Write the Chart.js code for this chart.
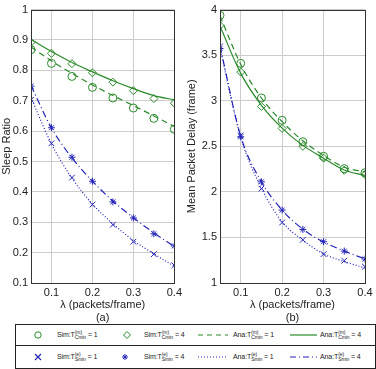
<!DOCTYPE html>
<html>
<head>
<meta charset="utf-8">
<script src="https://cdn.jsdelivr.net/npm/chart.js@4/dist/chart.umd.min.js"></script>
<style>
  body { margin: 0; background: #fff; font-family: "Liberation Sans", Arial, sans-serif; }
  #wrap { position: relative; width: 376px; height: 369px; overflow: hidden; }
  canvas { position: absolute; top: 0; }
  #legend { position: absolute; left: 15px; top: 324px; width: 359px; height: 43px; border: 1px solid #222; background: #fff; font-size: 7px; color: #222; }
  #legend .sep { position: absolute; left: 0; right: 0; top: 20px; border-top: 1px solid #222; }
  #legend .item { position: absolute; white-space: nowrap; line-height: 10px; letter-spacing: -0.1px; }
  #legend .ss { display: inline-flex; flex-direction: column; vertical-align: middle; font-size: 5px; line-height: 5px; margin-top: -1px; }
  #legend svg { position: absolute; overflow: visible; }
</style>
</head>
<body>
<div id="wrap">
  <canvas id="left" width="185" height="325" style="left:0"></canvas>
  <canvas id="right" width="191" height="325" style="left:185px"></canvas>
  <div id="legend">
    <div class="sep"></div>
    <svg width="360" height="44" style="left:0;top:0">
      <circle cx="22" cy="10" r="3.2" fill="none" stroke="#2a8a2a" stroke-width="1"/>
      <path d="M111 6.5 L114.5 10 L111 13.5 L107.5 10 Z" fill="none" stroke="#2a8a2a" stroke-width="1"/>
      <line x1="182" y1="10" x2="212" y2="10" stroke="#2a8a2a" stroke-width="1.2" stroke-dasharray="5,4"/>
      <line x1="274" y1="10" x2="301" y2="10" stroke="#2a8a2a" stroke-width="1.2"/>
      <path d="M19 29 L25 35 M25 29 L19 35" stroke="#2424b8" stroke-width="1.2"/>
      <path d="M106 32 L112 32 M109 29 L109 35 M107 30 L111 34 M111 30 L107 34" stroke="#2424b8" stroke-width="1"/>
      <line x1="182" y1="32" x2="211" y2="32" stroke="#2424b8" stroke-width="1.2" stroke-dasharray="1,2"/>
      <line x1="274" y1="32" x2="301" y2="32" stroke="#2424b8" stroke-width="1.2" stroke-dasharray="6,3,1,3"/>
    </svg>
    <div class="item" style="left:41px;top:5px">Sim:T<span class="ss"><span>(m)</span><span>Cmin</span></span> = 1</div>
    <div class="item" style="left:128px;top:5px">Sim:T<span class="ss"><span>(m)</span><span>Cmin</span></span> = 4</div>
    <div class="item" style="left:217px;top:5px">Ana:T<span class="ss"><span>(m)</span><span>Cmin</span></span> = 1</div>
    <div class="item" style="left:304px;top:5px">Ana:T<span class="ss"><span>(m)</span><span>Cmin</span></span> = 4</div>
    <div class="item" style="left:41px;top:27px">Sim:T<span class="ss"><span>(e)</span><span>Smin</span></span> = 1</div>
    <div class="item" style="left:128px;top:27px">Sim:T<span class="ss"><span>(e)</span><span>Smin</span></span> = 4</div>
    <div class="item" style="left:217px;top:27px">Ana:T<span class="ss"><span>(e)</span><span>Smin</span></span> = 1</div>
    <div class="item" style="left:304px;top:27px">Ana:T<span class="ss"><span>(e)</span><span>Smin</span></span> = 4</div>
  </div>
</div>
<script>
// lambda values (packets/frame)
const lambda = [0.05, 0.1, 0.15, 0.2, 0.25, 0.3, 0.35, 0.4]
const xTicks = [0.1, 0.2, 0.3, 0.4]

// (a) sleep ratio
const sleepSimC1 = [0.868, 0.823, 0.780, 0.744, 0.709, 0.676, 0.642, 0.606]
const sleepSimC4 = [0.892, 0.856, 0.822, 0.792, 0.761, 0.733, 0.707, 0.692]
const sleepAnaC1 = [0.877, 0.831, 0.790, 0.752, 0.717, 0.684, 0.650, 0.615]
const sleepAnaC4 = [0.902, 0.862, 0.826, 0.795, 0.766, 0.740, 0.717, 0.703]
const sleepSimS1 = [0.703, 0.560, 0.447, 0.358, 0.292, 0.236, 0.195, 0.158]
const sleepSimS4 = [0.748, 0.611, 0.514, 0.435, 0.367, 0.314, 0.262, 0.222]
const sleepAnaS1 = [0.710, 0.558, 0.445, 0.360, 0.295, 0.240, 0.196, 0.155]
const sleepAnaS4 = [0.750, 0.610, 0.512, 0.435, 0.370, 0.315, 0.265, 0.220]
const sleepTicks = [0.1, 0.2, 0.3, 0.4, 0.5, 0.6, 0.7, 0.8, 0.9, 1]

// (b) mean packet delay
const delaySimC1 = [3.937, 3.410, 3.030, 2.785, 2.550, 2.390, 2.255, 2.210]
const delaySimC4 = [3.826, 3.315, 2.937, 2.696, 2.500, 2.370, 2.237, 2.190]
const delayAnaC1 = [3.930, 3.400, 3.030, 2.770, 2.560, 2.400, 2.270, 2.220]
const delayAnaC4 = [3.820, 3.300, 2.950, 2.700, 2.510, 2.370, 2.240, 2.180]
const delaySimS1 = [3.596, 2.620, 2.036, 1.664, 1.474, 1.317, 1.245, 1.179]
const delaySimS4 = [3.574, 2.604, 2.110, 1.800, 1.588, 1.453, 1.350, 1.263]
const delayAnaS1 = [3.580, 2.600, 2.040, 1.670, 1.470, 1.320, 1.235, 1.165]
const delayAnaS4 = [3.600, 2.610, 2.110, 1.800, 1.590, 1.450, 1.350, 1.265]
const delayTicks = [1, 1.5, 2, 2.5, 3, 3.5, 4]

const green = '#2a8a2a'
const blue = '#2424b8'
const font = { family: '"Liberation Sans", Arial, sans-serif', size: 11 }

const pts = ys => ys.map((y, i) => ({ x: lambda[i], y }))

function sim(data, color, style, r) {
  return { data: pts(data), showLine: false, pointStyle: style, pointRadius: r,
    pointBorderColor: color, pointBackgroundColor: 'transparent', pointBorderWidth: 1 }
}
function ana(data, color, dash) {
  return { data: pts(data), showLine: true, borderColor: color, borderWidth: 1.2, borderDash: dash,
    pointRadius: 0, cubicInterpolationMode: 'monotone' }
}

// full frame round the plot area (chart.js only draws the axis side)
const framePlugin = {
  id: 'frame',
  afterDraw(chart) {
    const { ctx, chartArea: a } = chart
    ctx.save()
    ctx.strokeStyle = '#333'
    ctx.lineWidth = 1
    ctx.strokeRect(Math.round(a.left) + 0.5, Math.round(a.top) + 0.5,
      Math.round(a.right - a.left), Math.round(a.bottom - a.top))
    ctx.restore()
  }
}

function makeChart(id, sets, yTicks, yMin, yMax, yTitle, sub, yWidth, padRight) {
  return new Chart(document.getElementById(id), {
    type: 'scatter',
    data: { datasets: sets },
    plugins: [framePlugin],
    options: {
      responsive: false,
      animation: false,
      layout: { padding: { top: 9, right: padRight, left: 0, bottom: 0 } },
      plugins: { legend: { display: false }, tooltip: { enabled: false } },
      scales: {
        x: {
          type: 'linear', min: 0.05, max: 0.4,
          afterBuildTicks: s => { s.ticks = xTicks.map(v => ({ value: v })) },
          afterFit: s => { s.height = 42 },
          ticks: { font, color: '#222', padding: 3, callback: v => String(+v.toFixed(2)) },
          grid: { color: '#cccccc', drawTicks: false },
          border: { display: false },
          title: { display: true, text: ['λ (packets/frame)', sub], font, color: '#222', padding: 0 }
        },
        y: {
          type: 'linear', min: yMin, max: yMax,
          afterBuildTicks: s => { s.ticks = yTicks.map(v => ({ value: v })) },
          afterFit: s => { s.width = yWidth },
          ticks: { font, color: '#222', padding: 3, callback: v => String(+v.toFixed(2)) },
          grid: { color: '#cccccc', drawTicks: false },
          border: { display: false },
          title: { display: true, text: yTitle, font, color: '#222', padding: 0 }
        }
      }
    }
  })
}

makeChart('left', [
  ana(sleepAnaC1, green, [6, 4]),
  ana(sleepAnaC4, green, []),
  ana(sleepAnaS1, blue, [1, 2]),
  ana(sleepAnaS4, blue, [7, 3, 1, 3]),
  sim(sleepSimC1, green, 'circle', 4),
  sim(sleepSimC4, green, 'rectRot', 4),
  sim(sleepSimS1, blue, 'crossRot', 4),
  sim(sleepSimS4, blue, 'star', 3.5)
], sleepTicks, 0.1, 1, 'Sleep Ratio', '(a)', 31, 10)

makeChart('right', [
  ana(delayAnaC1, green, [6, 4]),
  ana(delayAnaC4, green, []),
  ana(delayAnaS1, blue, [1, 2]),
  ana(delayAnaS4, blue, [7, 3, 1, 3]),
  sim(delaySimC1, green, 'circle', 4),
  sim(delaySimC4, green, 'rectRot', 4),
  sim(delaySimS1, blue, 'crossRot', 4),
  sim(delaySimS4, blue, 'star', 3.5)
], delayTicks, 1, 4, 'Mean Packet Delay (frame)', '(b)', 35, 11)
</script>
</body>
</html>
